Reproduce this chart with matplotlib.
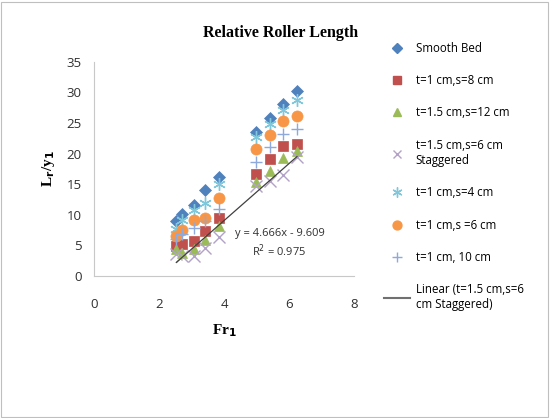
import numpy as np
import matplotlib.pyplot as plt
from matplotlib.lines import Line2D
from matplotlib.patches import Rectangle

# data
fr1 = [2.53, 2.69, 3.07, 3.42, 3.83, 4.99, 5.41, 5.82, 6.24]
smooth_bed = [8.9, 10.2, 11.6, 14.0, 16.2, 23.5, 25.9, 28.1, 30.2]
t1_s8 = [4.9, 5.2, 5.7, 7.3, 9.4, 16.7, 19.1, 21.2, 21.6]
t15_s12 = [4.4, 3.7, 4.4, 5.9, 8.2, 15.3, 17.1, 19.3, 20.5]
t15_s6_stag = [3.5, 3.3, 3.3, 4.6, 6.3, 14.7, 15.5, 16.5, 19.4]
t1_s4 = [7.6, 9.1, 10.8, 11.9, 15.0, 22.7, 24.8, 27.2, 28.7]
t1_s6 = [6.5, 7.5, 9.1, 9.4, 12.7, 20.8, 23.1, 25.3, 26.1]
t1_10 = [6.0, 6.9, 7.8, 8.9, 10.9, 18.7, 21.0, 23.2, 24.0]

# trendline shown on chart
slope = 4.666
intercept = -9.609
r2 = 0.975

fig = plt.figure(figsize=(5.5, 4.18), dpi=100)
ax = fig.add_axes([0.171, 0.34, 0.473, 0.512])

series = [
    (smooth_bed, "D", "#4F81BD", 6.5, "Smooth Bed"),
    (t1_s8, "s", "#C0504D", 7.5, "t=1 cm,s=8 cm"),
    (t15_s12, "^", "#9BBB59", 7.5, "t=1.5 cm,s=12 cm"),
    (t15_s6_stag, "x", "#B3A2C7", 8, "t=1.5 cm,s=6 cm\nStaggered"),
    (t1_s4, (6, 2, 0), "#7FC8DC", 9, "t=1 cm,s=4 cm"),
    (t1_s6, "o", "#F79646", 8, "t=1 cm,s =6 cm"),
    (t1_10, "+", "#8EA9DB", 9, "t=1 cm, 10 cm"),
]

handles = []
for vals, mk, col, ms, lab in series:
    ax.plot(fr1, vals, linestyle="none", marker=mk, color=col, markersize=ms,
            markeredgewidth=1.0 if mk in ("x", "+") or isinstance(mk, tuple) else 0.5)
    handles.append(Line2D([], [], linestyle="none", marker=mk, color=col,
                          markersize=ms * 0.8, label=lab))

xs = np.array([min(fr1), max(fr1)])
ax.plot(xs, slope * xs + intercept, color="#404040", linewidth=0.9)
handles.append(Line2D([], [], color="#707070", linewidth=1.5,
                      label="Linear (t=1.5 cm,s=6\ncm Staggered)"))

ax.text(5.7, 7.0, "y = 4.666x - 9.609", ha="center", va="center", fontsize=8,
        family="Open Sans", color="#303030")
ax.text(5.7, 4.1, "R$^2$ = 0.975", ha="center", va="center", fontsize=8,
        family="Open Sans", color="#303030")

ax.set_xlim(0, 8)
ax.set_ylim(0, 35)
ax.set_xticks([0, 2, 4, 6, 8])
ax.set_yticks(range(0, 36, 5))
ax.tick_params(axis="y", length=0, labelsize=9.5, pad=9)
ax.tick_params(axis="x", length=0, labelsize=9.5, pad=16)
for lab in ax.get_xticklabels() + ax.get_yticklabels():
    lab.set_family("Open Sans")
    lab.set_color("#303030")
for s in ["top", "right"]:
    ax.spines[s].set_visible(False)
for s in ["left", "bottom"]:
    ax.spines[s].set_color("#C8C8C8")

ax.set_xlabel("Fr$_\\mathbf{1}$", fontsize=11, fontweight="bold",
              family="Liberation Serif", labelpad=8)
ax.set_ylabel("L$_\\mathbf{r}$/y$_\\mathbf{1}$", fontsize=11, fontweight="bold",
              family="Liberation Serif", labelpad=7)
fig.text(0.51, 0.92, "Relative Roller Length", ha="center", va="center",
         fontsize=11.5, fontweight="bold", family="Liberation Serif")

fig.legend(handles=handles, loc="upper left", bbox_to_anchor=(0.68, 0.925),
           frameon=False, prop={"family": "Open Sans", "size": 8.3},
           labelspacing=1.68, handlelength=2.2, handletextpad=0.5)

fig.patches.append(Rectangle((0.002, 0.002), 0.994, 0.994, transform=fig.transFigure,
                             fill=False, edgecolor="#BFBFBF", linewidth=0.8))

fig.savefig("out.png", dpi=100)
